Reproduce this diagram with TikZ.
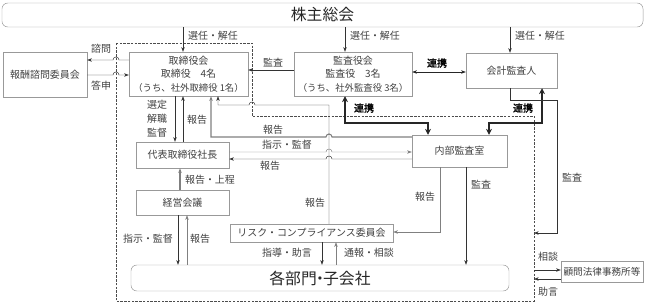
\documentclass[tikz,border=0pt]{standalone}
\usepackage{fontspec}
\setmainfont{Noto Sans CJK JP}[AutoFakeBold=2]
\usepackage{tikz}
\usetikzlibrary{arrows.meta}
\tikzset{
box/.style={draw=black!40,text=black!75,inner sep=1pt,align=center,font=\fontsize{8.5}{11.5}\selectfont},
rbox/.style={box,rounded corners=5pt,text=black!85,font=\fontsize{13.5}{16}\selectfont},
lbl/.style={text=black!75,inner sep=0pt,align=center,font=\fontsize{8.5}{12}\selectfont},
bl/.style={lbl,text=black,font=\fontsize{8.5}{12}\selectfont\bfseries},
ln/.style={draw=black!80,->},
gl/.style={draw=black!50,->},
tk/.style={draw=black!85,line width=1.5pt,{Stealth[length=5pt,width=5pt]}-{Stealth[length=5pt,width=5pt]}}
}
\begin{document}
\begin{tikzpicture}[x=0.03cm,y=-0.03cm,>={Stealth[length=4pt,width=3pt]}]
\useasboundingbox(0,0)rectangle(645,306);
\node[rbox,minimum width=19.23cm,minimum height=0.72cm](kabu)at(322.5,15){株主総会};
\node[box,minimum width=2.52cm,minimum height=1.35cm](hoshu)at(45,74.5){報酬諮問委員会};
\node[box,minimum width=3.57cm,minimum height=1.32cm](tori)at(188.5,74){取締役会\\取締役　4名\\{\fontsize{8}{11.5}\selectfont（うち、社外取締役 1名）}};
\node[box,minimum width=3.54cm,minimum height=1.32cm](kansa)at(353,74){監査役会\\監査役　3名\\{\fontsize{8}{11.5}\selectfont（うち、社外監査役 3名）}};
\node[box,minimum width=2.73cm,minimum height=1.05cm](kaikei)at(511.5,70.5){会計監査人};
\node[box,minimum width=2.79cm,minimum height=0.78cm](daihyo)at(182.5,155){代表取締役社長};
\node[box,minimum width=2.85cm,minimum height=0.96cm](naibu)at(459.5,151){内部監査室};
\node[box,minimum width=2.79cm,minimum height=0.75cm](keiei)at(182.5,202.5){経営会議};
\node[box,minimum width=4.89cm,minimum height=0.54cm](risk)at(311.5,233){リスク・コンプライアンス委員会};
\node[rbox,minimum width=11.34cm,minimum height=0.78cm](kakubu)at(320,278){各部門\kern-0.3em・\kern-0.3em子会社};
\node[box,minimum width=2.46cm,minimum height=0.63cm,font=\fontsize{8.2}{10}\selectfont](komon)at(602,271.5){顧問法律事務所等};
\draw[black!70,dash pattern=on 2pt off 1.2pt](116,43)--(252,43)--(252,116)--(534,116)--(534,301)--(116,301)--cycle;
\coordinate(gR)at(534,116);
\draw[ln](kabu.south -| 183,0)--(tori.north -| 183,0);
\draw[ln](kabu.south -| 345,0)--(kansa.north -| 345,0);
\draw[ln](kabu.south -| 510,0)--(kaikei.north -| 510,0);
\node[lbl](lSen1)at(213,36){選任・解任};
\node[lbl](lSen2)at(375,36){選任・解任};
\node[lbl](lSen3)at(540,36){選任・解任};
\draw[ln](tori.west |- 0,60)--(119,60)arc(0:-180:3)--(hoshu.east |- 0,60);
\draw[ln](hoshu.east |- 0,75)--(113,75)arc(180:360:3)--(tori.west |- 0,75);
\node[lbl](lShimon)at(101,49){諮問};
\node[lbl](lToshin)at(101,86){答申};
\draw[ln](kansa.west |- 0,70)--(tori.east |- 0,70);
\node[lbl](lKansa1)at(273,63){監査};
\draw[draw=black!85,<->](kansa.east |- 0,72)--(kaikei.west |- 0,72);
\node[bl](lRenkei1)at(437,63){連携};
\draw[ln](tori.south -| 175,0)--(daihyo.north -| 175,0);
\draw[ln](daihyo.north -| 183,0)--(tori.south -| 183,0);
\node[lbl](lSentei)at(157,119){選定\\解職\\監督};
\node[lbl](lHoku1)at(197,120){報告};
\draw[gl,line width=0.9pt](naibu.west |- 0,137)--(332,137)arc(0:-180:3)--(211,137)--(tori.south -| 211,0);
\node[lbl](lHoku2)at(273,130){報告};
\draw[ln](risk.north -| 329,0)--(329,105)--(255,105)arc(0:-180:3)--(218,105)--(tori.south -| 218,0);
\node[lbl](lHoku3)at(315,203){報告};
\draw[gl](daihyo.east |- 0,152)--(326,152)arc(180:360:3)--(naibu.west |- 0,152);
\node[lbl](lShiji1)at(287,145){指示・監督};
\draw[ln](naibu.west |- 0,159)--(332,159)arc(0:-180:3)--(daihyo.east |- 0,159);
\node[lbl](lHoku4)at(270,166){報告};
\draw[gl,line width=0.9pt](keiei.north -| 180,0)--(daihyo.south -| 180,0);
\node[lbl](lJotei)at(210,180){報告・上程};
\draw[ln](keiei.south -| 178,0)--(kakubu.north -| 178,0);
\draw[gl](kakubu.north -| 187,0)--(keiei.south -| 187,0);
\node[lbl](lShiji2)at(148,239){指示・監督};
\node[lbl](lHoku5)at(200,239){報告};
\draw[gl](naibu.south -| 440,0)--(440,232)--(risk.east |- 0,232);
\node[lbl](lHoku6)at(425,197){報告};
\draw[ln](naibu.south -| 466,0)--(kakubu.north -| 466,0);
\node[lbl](lKansa2)at(481,185){監査};
\draw[ln](risk.south -| 322,0)--(kakubu.north -| 322,0);
\draw[gl](kakubu.north -| 336,0)--(risk.south -| 336,0);
\node[lbl](lShido)at(287,253){指導・助言};
\node[lbl](lTsuho)at(369,253){通報・相談};
\draw[tk](kansa.south -| 345,0)--(345,123)--(428,123)--(naibu.north -| 428,0);
\node[bl](lRenkei2)at(364,108){連携};
\draw[tk](kaikei.south -| 542,0)--(542,123)--(489,123)--(naibu.north -| 489,0);
\node[bl](lRenkei3)at(523,108){連携};
\draw[ln](kaikei.south -| 510,0)--(510,100)--(557,100)--(557,233)--(gR |- 0,233);
\node[lbl](lKansa3)at(572,178){監査};
\draw[ln](gR |- 0,270)--(komon.west |- 0,270);
\draw[ln](komon.west |- 0,279)--(gR |- 0,279);
\node[lbl](lSodan)at(548,257){相談};
\node[lbl](lJogen)at(548,292){助言};
\end{tikzpicture}
\end{document}
